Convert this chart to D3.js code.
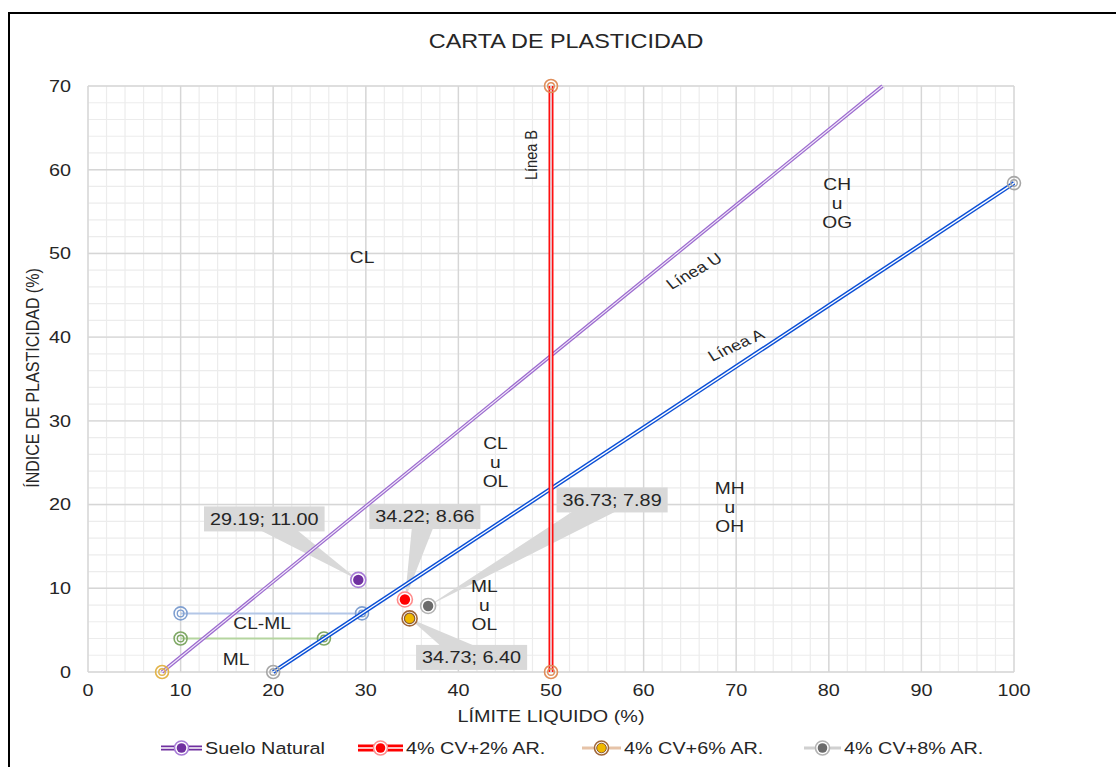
<!DOCTYPE html>
<html lang="es">
<head>
<meta charset="UTF-8">
<title>Carta de Plasticidad</title>
<script src="https://d3js.org/d3.v7.min.js"></script>
<style>
  body { margin: 0; background: #fff; overflow: hidden; }
  svg text { font-family: "Liberation Sans", Arial, sans-serif; fill: #262626; }
</style>
</head>
<body>
<svg width="1116" height="767"></svg>
<script>
// ---- data ----
const xTicks = [0, 10, 20, 30, 40, 50, 60, 70, 80, 90, 100];
const yTicks = [0, 10, 20, 30, 40, 50, 60, 70];

// reference lines [LL, IP]
const lineU = [[8, 0], [85.8, 70]];
const lineA = [[20, 0], [100, 58.4]];
const lineB = [[50, 0], [50, 70]];
const lineCLML7 = [[10, 7], [29.59, 7]];
const lineCLML4 = [[10, 4], [25.48, 4]];

const seriesNames = ["Suelo Natural", "4% CV+2% AR.", "4% CV+6% AR.", "4% CV+8% AR."];
const seriesLL = [29.19, 34.22, 34.73, 36.73];
const seriesIP = [11.00, 8.66, 6.40, 7.89];

const zoneLabels = [
  { lines: ["CL"], x: 29.6, y: 49.5 },
  { lines: ["CL", "u", "OL"], x: 44, y: 25 },
  { lines: ["MH", "u", "OH"], x: 69.3, y: 19.7 },
  { lines: ["CH", "u", "OG"], x: 80.9, y: 56 },
  { lines: ["ML", "u", "OL"], x: 42.8, y: 7.9 },
  { lines: ["CL-ML"], x: 18.8, y: 5.85 },
  { lines: ["ML"], x: 16, y: 1.55 }
];

const svg = d3.select("svg");
const x = d3.scaleLinear().domain([0, 100]).range([88, 1014]);
const y = d3.scaleLinear().domain([0, 70]).range([672, 86]);
const SX = 1.2; // the reference text is stretched horizontally

// text helper: ang is the on-screen angle in degrees
function addText(parent, px, py, str, size, anchor, ang) {
  ang = ang || 0;
  const r = ang * Math.PI / 180;
  const a = Math.atan2(Math.sin(r), Math.cos(r) * SX) * 180 / Math.PI;
  return parent.append("text")
    .attr("transform", `translate(${px},${py}) scale(${SX},1) rotate(${a})`)
    .attr("text-anchor", anchor || "middle").attr("dy", "0.35em")
    .style("font-size", size + "px").text(str);
}

// frame
svg.append("path").attr("d", "M9,767 V13 H1116").attr("fill", "none").attr("stroke", "#000").attr("stroke-width", 2);

// grid
const g = svg.append("g");
g.selectAll(".vminor").data(d3.range(0, 101, 2)).enter().append("line")
  .attr("x1", d => x(d)).attr("x2", d => x(d)).attr("y1", y(0)).attr("y2", y(70))
  .attr("stroke", "#ececec").attr("stroke-width", 1.2);
g.selectAll(".hminor").data(d3.range(0, 71, 2)).enter().append("line")
  .attr("y1", d => y(d)).attr("y2", d => y(d)).attr("x1", x(0)).attr("x2", x(100))
  .attr("stroke", "#ececec").attr("stroke-width", 1.2);
g.selectAll(".vmajor").data(xTicks).enter().append("line")
  .attr("x1", d => x(d)).attr("x2", d => x(d)).attr("y1", y(0)).attr("y2", y(70))
  .attr("stroke", "#d6d6d6").attr("stroke-width", 1.4);
g.selectAll(".hmajor").data(yTicks).enter().append("line")
  .attr("y1", d => y(d)).attr("y2", d => y(d)).attr("x1", x(0)).attr("x2", x(100))
  .attr("stroke", "#d6d6d6").attr("stroke-width", 1.4);

// tick labels
const ticks = svg.append("g");
xTicks.forEach(v => addText(ticks, x(v), 690, String(v), 16.5, "middle"));
yTicks.forEach(v => addText(ticks, 71, y(v), String(v), 16.5, "end"));

addText(svg, 566, 41, "CARTA DE PLASTICIDAD", 19.5, "middle");
addText(svg, 551, 716, "LÍMITE LIQUIDO (%)", 16.5, "middle");
svg.append("text").attr("transform", "translate(33,378) scale(1.13,1) rotate(-90)").attr("text-anchor", "middle")
  .attr("dy", "0.35em").style("font-size", "16px").text("ÍNDICE DE PLASTICIDAD (%)");

const line = d3.line().x(d => x(d[0])).y(d => y(d[1]));

// callouts (below the lines)
const calloutOffset = [[-94, -61], [20, -83], [62, 39], [184, -106]];
const seriesFill = ["#7030a0", "#ff0000", "#f0b800", "#6b6b6b"];
const seriesRing = ["#a77bd6", "#ff8c8c", "#a0663a", "#b3b3b3"];

const calloutLayer = svg.append("g");
const wedgeLayer = calloutLayer.append("g");
const boxLayer = calloutLayer.append("g");
const labelLayer = calloutLayer.append("g");
seriesNames.forEach((name, i) => {
  const px = x(seriesLL[i]), py = y(seriesIP[i]);
  const cx = px + calloutOffset[i][0], cy = py + calloutOffset[i][1];
  const label = seriesLL[i].toFixed(2) + "; " + seriesIP[i].toFixed(2);
  const t = addText(labelLayer, cx, cy, label, 16.5, "middle");
  const w = t.node().getBBox().width * SX + 12, h = 25;
  const dx = px - cx, dy = py - cy, len = Math.hypot(dx, dy);
  const nx = -dy / len * 12, ny = dx / len * 12;
  wedgeLayer.append("path")
    .attr("d", `M${cx + nx},${cy + ny} L${px},${py} L${cx - nx},${cy - ny} Z`)
    .attr("fill", "#d9d9d9");
  boxLayer.append("rect").attr("x", cx - w / 2).attr("y", cy - h / 2).attr("width", w).attr("height", h)
    .attr("fill", "#d9d9d9");
});

function doubleLine(pts, color, w, inner) {
  svg.append("path").attr("d", line(pts)).attr("fill", "none").attr("stroke", color).attr("stroke-width", w);
  svg.append("path").attr("d", line(pts)).attr("fill", "none").attr("stroke", inner).attr("stroke-width", w / 3.2);
}
function ring(px, py, color) {
  svg.append("circle").attr("cx", px).attr("cy", py).attr("r", 6.5)
    .attr("fill", "none").attr("stroke", color).attr("stroke-width", 1.6);
  svg.append("circle").attr("cx", px).attr("cy", py).attr("r", 3.3)
    .attr("fill", "none").attr("stroke", color).attr("stroke-width", 1.4);
}

// CL-ML lines
svg.append("path").attr("d", line(lineCLML7)).attr("stroke", "#b4c7e7").attr("stroke-width", 2).attr("fill", "none");
svg.append("path").attr("d", line(lineCLML4)).attr("stroke", "#b5d5a0").attr("stroke-width", 2).attr("fill", "none");
lineCLML7.forEach(p => ring(x(p[0]), y(p[1]), "#7f9fd0"));
lineCLML4.forEach(p => ring(x(p[0]), y(p[1]), "#7fa865"));

// U, A, B lines
doubleLine(lineU, "#9c6bcf", 3.6, "#f3ecfa");
doubleLine(lineA, "#0b4fd6", 4.2, "#ffffff");
doubleLine(lineB, "#ff1010", 5, "#e6e9f2");
ring(x(lineU[0][0]), y(lineU[0][1]), "#e2b44a");
lineA.forEach(p => ring(x(p[0]), y(p[1]), "#a6a6a6"));
lineB.forEach(p => ring(x(p[0]), y(p[1]), "#e08e5a"));

// line labels
function slope(pts) {
  return Math.atan2(y(pts[1][1]) - y(pts[0][1]), x(pts[1][0]) - x(pts[0][0])) * 180 / Math.PI;
}
addText(svg, 694, 271, "Línea U", 15, "middle", slope(lineU));
addText(svg, 736, 345, "Línea A", 15, "middle", slope(lineA));
svg.append("text").attr("transform", "translate(531,155) scale(1.13,1) rotate(-90)")
  .attr("text-anchor", "middle").attr("dy", "0.35em").style("font-size", "14.5px").text("Línea B");

// zone labels
zoneLabels.forEach(z => {
  const n = z.lines.length;
  z.lines.forEach((s, i) => {
    addText(svg, x(z.x), y(z.y) + (i - (n - 1) / 2) * 19, s, 16, "middle");
  });
});

// bring callout texts to top
labelLayer.raise();

// data points
seriesNames.forEach((name, i) => {
  const px = x(seriesLL[i]), py = y(seriesIP[i]);
  svg.append("circle").attr("cx", px).attr("cy", py).attr("r", 7.5).attr("fill", "#fff")
    .attr("stroke", seriesRing[i]).attr("stroke-width", 1.6);
  svg.append("circle").attr("cx", px).attr("cy", py).attr("r", 5.2).attr("fill", seriesFill[i])
    .attr("stroke", i === 2 ? "#8a5a30" : "none").attr("stroke-width", 1.2);
});

// legend
const legendX = [161, 358, 582, 804];
const legendW = [41, 45, 39, 37];
const legendLine = ["#7030a0", "#ff0000", "#e6c3a8", "#d0d0d0"];
seriesNames.forEach((name, i) => {
  const lx = legendX[i], ly = 748, lw = legendW[i];
  if (i < 2) {
    svg.append("line").attr("x1", lx).attr("x2", lx + lw).attr("y1", ly).attr("y2", ly)
      .attr("stroke", legendLine[i]).attr("stroke-width", i === 1 ? 7 : 5);
    svg.append("line").attr("x1", lx).attr("x2", lx + lw).attr("y1", ly).attr("y2", ly)
      .attr("stroke", "#fff").attr("stroke-width", 1.5);
  } else {
    svg.append("line").attr("x1", lx).attr("x2", lx + lw).attr("y1", ly).attr("y2", ly)
      .attr("stroke", legendLine[i]).attr("stroke-width", 3);
  }
  const mx = lx + lw / 2;
  svg.append("circle").attr("cx", mx).attr("cy", ly).attr("r", 7).attr("fill", "#fff")
    .attr("stroke", seriesRing[i]).attr("stroke-width", 1.6);
  svg.append("circle").attr("cx", mx).attr("cy", ly).attr("r", 4.8).attr("fill", seriesFill[i])
    .attr("stroke", i === 2 ? "#8a5a30" : "none");
  addText(svg, lx + lw + 3, ly, name, 16.5, "start");
});
</script>
</body>
</html>
